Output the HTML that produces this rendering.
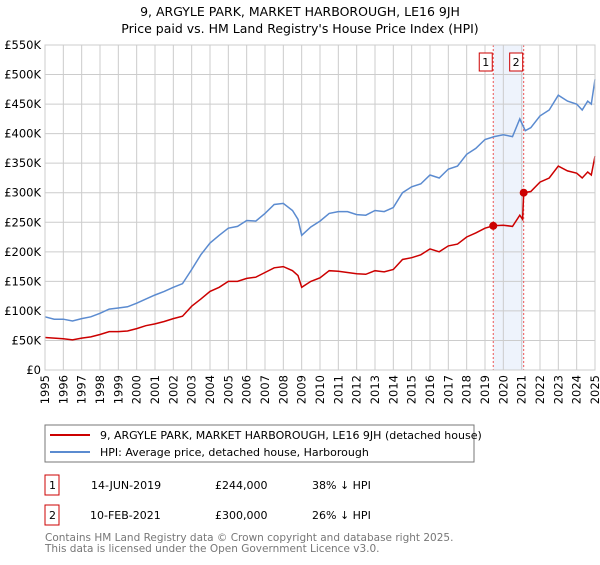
<!DOCTYPE html>
<html><head><meta charset="utf-8"><style>
body{margin:0;background:#fff;font-family:"Liberation Sans","DejaVu Sans",sans-serif;}
svg text{font-family:"DejaVu Sans","Liberation Sans",sans-serif;}
</style></head><body>
<svg width="600" height="560" xmlns="http://www.w3.org/2000/svg">
<text x="300" y="16" text-anchor="middle" font-size="12.5">9, ARGYLE PARK, MARKET HARBOROUGH, LE16 9JH</text>
<text x="300" y="33" text-anchor="middle" font-size="12.5">Price paid vs. HM Land Registry's House Price Index (HPI)</text>
<g id="grid"></g>
<g id="marks"></g>
<g id="axes"></g>
<rect x="45" y="425" width="429" height="37" fill="none" stroke="#777"/>
<line x1="50" y1="435" x2="90" y2="435" stroke="#cc0000" stroke-width="2"/>
<text x="100" y="439" font-size="11">9, ARGYLE PARK, MARKET HARBOROUGH, LE16 9JH (detached house)</text>
<line x1="50" y1="452" x2="90" y2="452" stroke="#5b8bd0" stroke-width="2"/>
<text x="100" y="456" font-size="11">HPI: Average price, detached house, Harborough</text>
<g font-size="11">
<rect x="45" y="475" width="14" height="20" fill="none" stroke="#c00"/><text x="49" y="489">1</text>
<text x="91" y="489">14-JUN-2019</text><text x="215" y="489">£244,000</text><text x="312" y="489">38% ↓ HPI</text></g>
<g font-size="11">
<rect x="45" y="505" width="14" height="20" fill="none" stroke="#c00"/><text x="49" y="519">2</text>
<text x="90" y="519">10-FEB-2021</text><text x="215" y="519">£300,000</text><text x="312" y="519">26% ↓ HPI</text></g>
<text x="45" y="541" font-size="10.5" fill="#777">Contains HM Land Registry data © Crown copyright and database right 2025.</text>
<text x="45" y="552" font-size="10.5" fill="#777">This data is licensed under the Open Government Licence v3.0.</text>
</svg>
<script>
const hpiYears=[1995,1995.5,1996,1996.5,1997,1997.5,1998,1998.5,1999,1999.5,2000,2000.5,2001,2001.5,2002,2002.5,2003,2003.5,2004,2004.5,2005,2005.5,2006,2006.5,2007,2007.5,2008,2008.5,2008.8,2009,2009.5,2010,2010.5,2011,2011.5,2012,2012.5,2013,2013.5,2014,2014.5,2015,2015.5,2016,2016.5,2017,2017.5,2018,2018.5,2019,2019.5,2020,2020.5,2020.9,2021.2,2021.5,2022,2022.5,2023,2023.5,2024,2024.3,2024.6,2024.8,2025];
const hpiValues=[90,86,86,83,87,90,96,103,105,107,113,120,127,133,140,146,170,195,215,228,240,243,253,252,265,280,282,270,255,228,242,252,265,268,268,263,262,270,268,275,300,310,315,330,325,340,345,365,375,390,395,398,395,425,405,410,430,440,465,455,450,440,455,450,492];
const propYears=[1995,1996,1996.5,1997,1997.5,1998,1998.5,1999,1999.5,2000,2000.5,2001,2001.5,2002,2002.5,2003,2003.5,2004,2004.5,2005,2005.5,2006,2006.5,2007,2007.5,2008,2008.5,2008.8,2009,2009.5,2010,2010.5,2011,2011.5,2012,2012.5,2013,2013.5,2014,2014.5,2015,2015.5,2016,2016.5,2017,2017.5,2018,2018.5,2019,2019.45,2020,2020.5,2020.9,2021.05,2021.11,2021.5,2022,2022.5,2023,2023.5,2024,2024.3,2024.6,2024.8,2025];
const propValues=[55,53,51,54,56,60,65,65,66,70,75,78,82,87,91,108,120,133,140,150,150,155,157,165,173,175,168,160,140,150,156,168,167,165,163,162,168,166,170,187,190,195,205,200,210,213,225,232,240,244,245,243,262,255,300,302,318,325,345,337,333,325,335,330,362];
const saleYears=[2019.45,2021.11];
const saleValues=[244,300];
const saleLabels=["1","2"];
const yTicks=[0,50,100,150,200,250,300,350,400,450,500,550];
const yTickLabels=["£0","£50K","£100K","£150K","£200K","£250K","£300K","£350K","£400K","£450K","£500K","£550K"];
const xTicks=[1995,1996,1997,1998,1999,2000,2001,2002,2003,2004,2005,2006,2007,2008,2009,2010,2011,2012,2013,2014,2015,2016,2017,2018,2019,2020,2021,2022,2023,2024,2025];

const X0=45,X1=595,Y0=370,Y1=45;
const xs=v=>X0+(v-1995)/30*(X1-X0);
const ys=v=>Y0-v/550*(Y0-Y1);
const NS="http://www.w3.org/2000/svg";
function mk(tag,attrs,parent,txt){const e=document.createElementNS(NS,tag);for(const k in attrs)e.setAttribute(k,attrs[k]);if(txt!==undefined)e.textContent=txt;document.getElementById(parent).appendChild(e);return e;}
// band
let band=mk('rect',{x:xs(saleYears[0]),y:Y1,width:xs(saleYears[1])-xs(saleYears[0]),height:Y0-Y1,fill:'#eef3fc'},'grid');


yTicks.forEach((t,i)=>{
 let l=mk('line',{x1:X0,x2:X1,y1:ys(t),y2:ys(t),stroke:'#ccc'},'grid');
 
 
 let tx=mk('text',{x:X0-4,y:ys(t)+4,'text-anchor':'end','font-size':11.5},'axes',yTickLabels[i]);
 
 
});
xTicks.forEach(t=>{
 let l=mk('line',{x1:xs(t),x2:xs(t),y1:Y1,y2:Y0,stroke:'#ccc'},'grid');
 
 
 let tx=mk('text',{x:0,y:0,'text-anchor':'end','font-size':11.5,transform:`translate(${xs(t)+4},${Y0+5}) rotate(-90)`},'axes',String(t));
 
 
});
saleYears.forEach((y,i)=>{
 let l=mk('line',{x1:xs(y),x2:xs(y),y1:Y1,y2:Y0,stroke:'#e55','stroke-dasharray':'2,2'},'marks');
 
 
 let r=mk('rect',{x:xs(y)-14,y:53,width:13,height:18,fill:'#fff',stroke:'#c00'},'marks');
 
 
 let t=mk('text',{x:xs(y)-7.5,y:66,'text-anchor':'middle','font-size':11},'marks',saleLabels[i]);
 
 
});
function line(xa,va,color,name){
 const d=xa.map((x,i)=>(i?'L':'M')+xs(x).toFixed(1)+','+ys(va[i]).toFixed(1)).join(' ');
 let p=mk('path',{d:d,fill:'none',stroke:color,'stroke-width':1.5},'marks');
 
 
}
line(hpiYears,hpiValues,'#5b8bd0','hpi-line');
line(propYears,propValues,'#cc0000','property-line');
saleYears.forEach((y,i)=>{
 let c=mk('circle',{cx:xs(y),cy:ys(saleValues[i]),r:4,fill:'#cc0000'},'marks');
 
 
});
let ax=mk('rect',{x:X0,y:Y1,width:X1-X0,height:Y0-Y1,fill:'none',stroke:'#ccc'},'axes');


</script>
</body></html>
